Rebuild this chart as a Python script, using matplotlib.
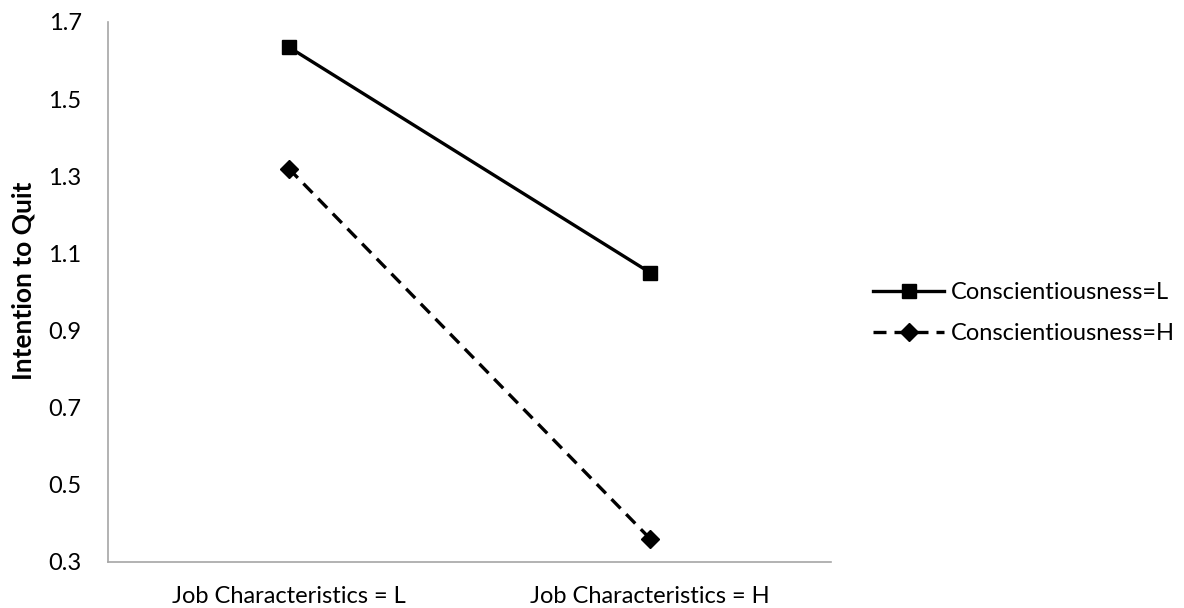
import matplotlib
matplotlib.use("Agg")
import matplotlib.pyplot as plt
from matplotlib.lines import Line2D

categories = ["Job Characteristics = L", "Job Characteristics = H"]
series_names = ["Conscientiousness=L", "Conscientiousness=H"]
low_consc = [1.635, 1.05]
high_consc = [1.32, 0.36]
yticks = [0.3, 0.5, 0.7, 0.9, 1.1, 1.3, 1.5, 1.7]

plt.rcParams['font.family'] = ['Lato', 'DejaVu Sans']

fig = plt.figure(figsize=(11.84, 6.08), dpi=100)
ax = fig.add_axes([108/1184, 1 - 562/608, (831-108)/1184, (562-22)/608])

LW = 2.4
DASH = (0, (3.9, 2.4))
x = [0.5, 1.5]
ax.plot(x, low_consc, color='black', lw=LW, marker='s', ms=10.5, label=series_names[0])
ax.plot(x, high_consc, color='black', lw=LW, ls=DASH, marker='D', ms=9, label=series_names[1])

ax.set_xlim(0, 2)
ax.set_ylim(0.3, 1.7)
ax.set_yticks(yticks)
ax.set_yticklabels([f"{v:.1f}" for v in yticks])
ax.set_xticks(x)
ax.set_xticklabels(categories)
ax.tick_params(axis='both', length=0, labelsize=17, colors='black')
ax.tick_params(axis='y', pad=19)
ax.tick_params(axis='x', pad=17)
for s in ['top', 'right']:
    ax.spines[s].set_visible(False)
for s in ['left', 'bottom']:
    ax.spines[s].set_color('#a6a6a6')
    ax.spines[s].set_linewidth(1.2)

ax.set_ylabel("Intention to Quit", fontsize=19, fontweight='bold')
ax.yaxis.set_label_coords((36 - 108) / 723, (562 - 281) / 540)

handles = [
    Line2D([], [], color='black', lw=LW, marker='s', ms=10.5),
    Line2D([], [], color='black', lw=LW, ls=DASH, marker='D', ms=9),
]
fig.legend(handles, series_names, loc='center left', bbox_to_anchor=(852/1184, 1 - 313/608),
           frameon=False, fontsize=17, handlelength=3.0, handletextpad=0.3, labelspacing=0.85)

fig.savefig("out.png", dpi=100)
